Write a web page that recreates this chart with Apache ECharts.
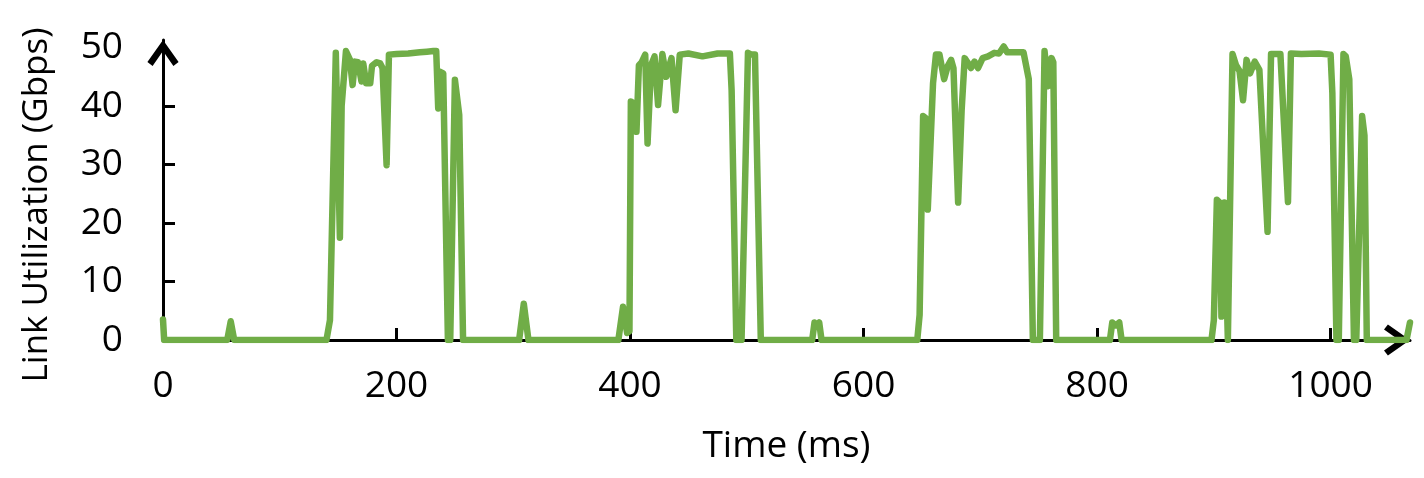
<!DOCTYPE html>
<html>
<head>
<meta charset="utf-8">
<script src="https://cdn.jsdelivr.net/npm/echarts@6/dist/echarts.min.js"></script>
<style>
  html, body { margin: 0; padding: 0; background: #fff; }
  #chart { width: 1424px; height: 478px; }
</style>
</head>
<body>
<div id="chart"></div>
<script>
// time (ms) and link utilization (Gbps)
const times = [
  0, 1,
  55, 58, 61,
  140, 143, 148, 151.5, 153, 156.7, 160, 162.4, 164.4, 167, 170, 171.5, 174, 177.5, 179, 183, 186, 188, 191.5, 193.5,
  200, 210, 220, 226, 231.5, 234, 235.7, 237, 240, 244, 246, 250, 253.7, 257,
  305, 309, 313,
  390, 394, 397.5, 399.5, 400.7, 403, 405.5, 407.6, 410, 413, 415, 418, 421, 424, 427.7, 431, 435.5, 439, 442.6,
  450, 462, 475, 485.5, 487, 491, 495.5, 501, 504, 507, 512,
  556, 558, 560, 562, 564,
  646, 648, 651, 653, 655, 656.5, 659.5, 662, 665, 669, 672, 675, 677, 681, 684, 686.6, 689, 692, 695, 698,
  702, 706.6, 712, 716, 720, 723, 730, 737, 741.5, 745, 751, 755, 758, 761, 762.5, 765,
  811, 813, 816, 819, 821,
  898, 900, 902.6, 905, 906.5, 909, 912, 913, 916, 919, 922, 925, 928, 931, 935, 939, 946, 949, 957, 963.5, 966,
  975, 990, 1000, 1001.5, 1005, 1007, 1011, 1013, 1016, 1020, 1022, 1027, 1029, 1031, 1065, 1068
];
const utilization = [
  3.5, 0,
  0, 3.2, 0,
  0, 3.4, 49.1, 17.5, 40, 49.4, 48, 43.6, 47.6, 47.5, 44.2, 47.3, 43.9, 43.9, 46.9, 47.5, 47.3, 46.5, 29.9, 48.8,
  48.9, 49, 49.2, 49.3, 49.4, 49.4, 39.6, 45.9, 45.6, 0, 0, 44.5, 38.5, 0,
  0, 6.2, 0,
  0, 5.7, 1.2, 1.5, 40.8, 40.5, 35.6, 47, 47.5, 48.8, 33.6, 47, 48.5, 40.2, 48.9, 45, 48.2, 39.3, 48.8,
  49, 48.5, 49, 49, 42.7, 0, 0, 49.1, 48.8, 48.8, 0,
  0, 3, 2.4, 3, 0,
  0, 4.3, 38.3, 38, 22.3, 22.5, 43.9, 48.8, 48.8, 44.6, 46.8, 47.9, 46.5, 23.5, 39.3, 48.2, 47.5, 46.5, 47.6, 46.5,
  48.2, 48.5, 49.1, 49, 50.2, 49.2, 49.2, 49.2, 44.6, 0, 0, 49.4, 43.4, 48.2, 47.5, 0,
  0, 3, 2.5, 3, 0,
  0, 3.4, 24, 23.5, 4, 23.5, 0, 0, 48.9, 47, 46, 41, 47.9, 45.6, 47.6, 46.2, 18.5, 48.9, 48.9, 23.6, 49,
  48.9, 49, 48.8, 42.2, 0, 0, 48.9, 48.5, 44.6, 0, 0, 38.3, 35, 0, 0, 3
];
const xTicks = [0, 200, 400, 600, 800, 1000];
const yTicks = [0, 10, 20, 30, 40, 50];

// open chevron used as arrow head on both axes
const arrow = 'path://M12,0 L24,17 L20,20 L12,8.5 L4,20 L0,17 Z';
const font = '"Open Sans", sans-serif';

const chart = echarts.init(document.getElementById('chart'));
chart.setOption({
  animation: false,
  grid: { left: 163, right: 14, top: 40, bottom: 138 },
  xAxis: {
    type: 'value',
    min: 0,
    max: 1068,
    name: 'Time (ms)',
    nameLocation: 'middle',
    nameGap: 88,
    nameTextStyle: { fontFamily: font, fontSize: 37, color: '#000' },
    axisLine: {
      lineStyle: { color: '#000', width: 3 },
      symbol: ['none', arrow],
      symbolSize: [32, 26],
      symbolOffset: [0, -13]
    },
    axisTick: { inside: true, length: 12, lineStyle: { color: '#000', width: 3 }, customValues: xTicks.slice(1) },
    axisLabel: {
      fontFamily: font, fontSize: 37, color: '#000', margin: 28,
      customValues: xTicks,
      formatter: v => String(v)
    },
    splitLine: { show: false }
  },
  yAxis: {
    type: 'value',
    min: 0,
    max: 51.3,
    name: 'Link Utilization (Gbps)',
    nameLocation: 'middle',
    nameGap: 108,
    nameTextStyle: { fontFamily: font, fontSize: 35, color: '#000', padding: [0, 30, 0, 0] },
    axisLine: {
      lineStyle: { color: '#000', width: 3 },
      symbol: ['none', arrow],
      symbolSize: [32, 26],
      symbolOffset: [0, -13]
    },
    axisTick: { inside: true, length: 12, lineStyle: { color: '#000', width: 3 }, customValues: yTicks.slice(1, 5) },
    axisLabel: {
      fontFamily: font, fontSize: 37, color: '#000', margin: 40,
      customValues: yTicks,
      formatter: v => String(v)
    },
    splitLine: { show: false }
  },
  series: [{
    type: 'line',
    data: times.map((t, i) => [t, utilization[i]]),
    showSymbol: false,
    lineStyle: { color: '#70AD47', width: 6.5, join: 'round', cap: 'round' },
    z: 5
  }]
});
</script>
</body>
</html>
